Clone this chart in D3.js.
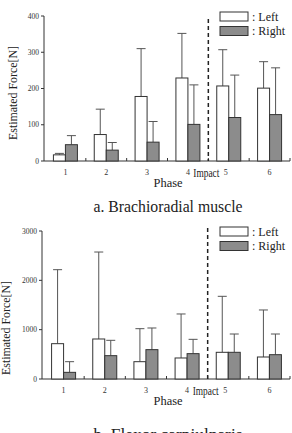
<!DOCTYPE html>
<html>
<head>
<meta charset="utf-8">
<script src="https://cdn.jsdelivr.net/npm/d3@7"></script>
<style>
  body { margin: 0; background: #fff; }
  svg text { font-family: "Liberation Serif", "DejaVu Serif", serif; }
</style>
</head>
<body>
<script>
// phases on the x axis
var phases = ["1", "2", "3", "4", "5", "6"];

// a. Brachioradial muscle (mean, mean + SD)
var brachLeft = [17, 73, 178, 229, 207, 201];
var brachLeftErr = [21, 143, 310, 352, 307, 274];
var brachRight = [45, 30, 52, 101, 120, 128];
var brachRightErr = [70, 51, 109, 210, 237, 257];
var brachTicks = [0, 100, 200, 300, 400];

// b. Flexor carpiulnaris (mean, mean + SD)
var flexLeft = [716, 811, 351, 426, 541, 446];
var flexLeftErr = [2216, 2574, 1020, 1318, 1676, 1399];
var flexRight = [135, 473, 595, 514, 541, 493];
var flexRightErr = [351, 784, 1034, 804, 912, 912];
var flexTicks = [0, 1000, 2000, 3000];

var serif = "'Liberation Serif', 'DejaVu Serif', serif";

var svg = d3.select("body").append("svg")
    .attr("width", 292)
    .attr("height", 433)
    .attr("font-family", serif);

function drawPanel(opt) {
  var g = svg.append("g");

  var x = d3.scaleBand().domain(phases).range([opt.x0, opt.x1]).padding(0);
  var y = d3.scaleLinear().domain([0, opt.max]).range([opt.yb, opt.yt]);
  var barW = 12;

  // y axis
  g.append("line")
    .attr("x1", opt.x0 - 1).attr("x2", opt.x0 - 1)
    .attr("y1", y(0)).attr("y2", y(opt.max))
    .attr("stroke", "#333").attr("stroke-width", 1);
  opt.ticks.forEach(function(t) {
    g.append("line")
      .attr("x1", opt.x0 - 4).attr("x2", opt.x0 - 1)
      .attr("y1", y(t)).attr("y2", y(t))
      .attr("stroke", "#333");
    g.append("text")
      .attr("x", opt.x0 - 6).attr("y", y(t) + 2.5)
      .attr("text-anchor", "end")
      .attr("font-family", serif)
      .style("font-size", "7.5px")
      .style("fill", "#333")
      .text(t);
  });

  // x axis
  g.append("line")
    .attr("x1", opt.x0 - 1).attr("x2", opt.x1)
    .attr("y1", y(0)).attr("y2", y(0))
    .attr("stroke", "#333");
  phases.forEach(function(p, i) {
    var bx = x(p) + x.bandwidth();
    g.append("line")
      .attr("x1", bx).attr("x2", bx)
      .attr("y1", y(0)).attr("y2", y(0) - 3)
      .attr("stroke", "#333");
    g.append("text")
      .attr("x", x(p) + x.bandwidth() / 2 - (p == "5" ? 3 : 0))
      .attr("y", y(0) + 14)
      .attr("text-anchor", "middle")
      .attr("font-family", serif)
      .style("font-size", "8px")
      .style("fill", "#333")
      .text(p);
  });

  // bars
  var pairs = [
    {vals: opt.left, errs: opt.leftErr, dx: -barW, fill: "#fff"},
    {vals: opt.right, errs: opt.rightErr, dx: 0, fill: "#8c8c8c"}
  ];
  pairs.forEach(function(s) {
    phases.forEach(function(p, i) {
      var cx = x(p) + x.bandwidth() / 2 + s.dx;
      // error bar
      g.append("line")
        .attr("x1", cx + barW / 2).attr("x2", cx + barW / 2)
        .attr("y1", y(s.vals[i])).attr("y2", y(s.errs[i]))
        .attr("stroke", "#555").attr("stroke-width", 1);
      g.append("line")
        .attr("x1", cx + barW / 2 - 4.5).attr("x2", cx + barW / 2 + 4.5)
        .attr("y1", y(s.errs[i])).attr("y2", y(s.errs[i]))
        .attr("stroke", "#555").attr("stroke-width", 1);
      g.append("rect")
        .attr("x", cx).attr("y", y(s.vals[i]))
        .attr("width", barW).attr("height", y(0) - y(s.vals[i]))
        .attr("fill", s.fill)
        .attr("stroke", "#333").attr("stroke-width", 1);
    });
  });

  // impact line between phase 4 and 5
  var ix = x("5");
  g.append("line")
    .attr("x1", ix).attr("x2", ix)
    .attr("y1", opt.dashTop).attr("y2", y(0))
    .attr("stroke", "#222").attr("stroke-width", 1.5)
    .attr("stroke-dasharray", "4,3");
  g.append("text")
    .attr("x", ix - 15).attr("y", y(0) + 16)
    .attr("font-family", serif)
    .style("font-size", "12px")
    .style("fill", "#222")
    .attr("textLength", 26).attr("lengthAdjust", "spacingAndGlyphs")
    .text("Impact");

  // axis titles
  g.append("text")
    .attr("x", 168).attr("y", y(0) + 26)
    .attr("text-anchor", "middle")
    .attr("font-family", serif)
    .style("font-size", "12px")
    .style("fill", "#222")
    .attr("textLength", 29).attr("lengthAdjust", "spacingAndGlyphs")
    .text("Phase");
  g.append("text")
    .attr("transform", "translate(" + opt.ylabX + "," + opt.ylabY + ") rotate(-90)")
    .attr("text-anchor", "middle")
    .attr("font-family", serif)
    .style("font-size", "12.5px")
    .style("fill", "#222")
    .attr("textLength", 94).attr("lengthAdjust", "spacingAndGlyphs")
    .text("Estimated Force[N]");

  // legend
  var lg = [{label: ": Left", fill: "#fff"}, {label: ": Right", fill: "#8c8c8c"}];
  lg.forEach(function(l, i) {
    g.append("rect")
      .attr("x", 220).attr("y", opt.legY + i * 14.5)
      .attr("width", 28).attr("height", 9)
      .attr("fill", l.fill)
      .attr("stroke", "#333");
    g.append("text")
      .attr("x", 252).attr("y", opt.legY + i * 14.5 + 8.5)
      .attr("font-family", serif)
      .style("font-size", "12px")
      .style("fill", "#222")
      .text(l.label);
  });

  // panel caption
  g.append("text")
    .attr("x", 168).attr("y", opt.capY)
    .attr("text-anchor", "middle")
    .attr("font-family", serif)
    .style("font-size", "17px")
    .style("fill", "#222")
    .attr("textLength", 149).attr("lengthAdjust", "spacingAndGlyphs")
    .text(opt.caption);
}

drawPanel({
  left: brachLeft, leftErr: brachLeftErr, right: brachRight, rightErr: brachRightErr,
  ticks: brachTicks, max: 400,
  x0: 45, x1: 290, yt: 16, yb: 161, dashTop: 19,
  ylabX: 17, ylabY: 93, legY: 12, capY: 212,
  caption: "a. Brachioradial muscle"
});

drawPanel({
  left: flexLeft, leftErr: flexLeftErr, right: flexRight, rightErr: flexRightErr,
  ticks: flexTicks, max: 3000,
  x0: 43, x1: 290, yt: 231, yb: 379, dashTop: 228,
  ylabX: 10, ylabY: 328, legY: 227, capY: 440,
  caption: "b. Flexor carpiulnaris"
});
</script>
</body>
</html>
